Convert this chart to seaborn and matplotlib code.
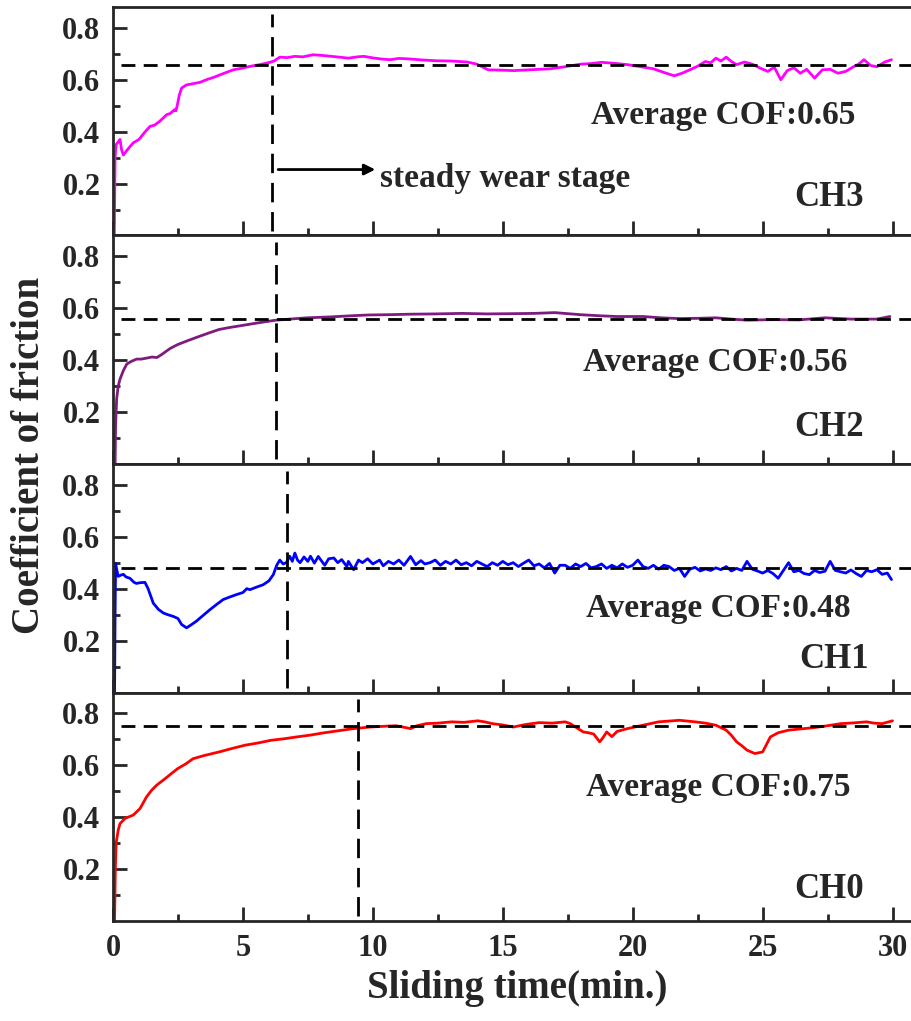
import matplotlib.pyplot as plt
import seaborn as sns

# friction curves (time in min, COF)
ch3_t = [0.05, 0.08, 0.12, 0.2, 0.27, 0.33, 0.4, 0.55, 0.78, 1.0, 1.2, 1.42, 1.6, 1.8, 2.06, 2.2, 2.38, 2.42,
         2.47, 2.55, 2.64, 2.83, 3.1, 3.35, 3.6, 3.9, 4.2, 4.63, 5.0, 5.3, 5.65, 6.04, 6.2, 6.42, 6.7, 7.0, 7.3,
         7.7, 8.0, 8.4, 8.7, 9.06, 9.4, 9.66, 10.0, 10.3, 10.65, 11.0, 11.4, 11.9, 12.44, 13.0, 13.64, 14.0,
         14.2, 14.44, 14.9, 15.43, 16.0, 16.4, 16.82, 17.4, 18.0, 18.4, 18.8, 19.3, 19.8, 20.3, 20.8, 21.2,
         21.6, 21.9, 22.2, 22.5, 22.8, 23.0, 23.2, 23.4, 23.6, 23.8, 24.0, 24.3, 24.6, 24.9, 25.2, 25.45, 25.7,
         25.95, 26.2, 26.45, 26.7, 27.0, 27.3, 27.6, 27.9, 28.2, 28.5, 28.7, 28.9, 29.15, 29.4, 29.7, 29.96]
ch3_v = [0.0, 0.30, 0.35, 0.36, 0.37, 0.33, 0.31, 0.33, 0.357, 0.37, 0.395, 0.42, 0.425, 0.44, 0.465, 0.47,
         0.485, 0.48, 0.50, 0.54, 0.568, 0.58, 0.585, 0.59, 0.60, 0.61, 0.622, 0.638, 0.645, 0.652, 0.658,
         0.667, 0.672, 0.687, 0.685, 0.69, 0.688, 0.696, 0.694, 0.69, 0.687, 0.683, 0.688, 0.69, 0.684, 0.68,
         0.677, 0.682, 0.68, 0.676, 0.673, 0.672, 0.668, 0.66, 0.65, 0.638, 0.637, 0.635, 0.638, 0.64, 0.642,
         0.65, 0.66, 0.662, 0.667, 0.663, 0.658, 0.65, 0.642, 0.628, 0.615, 0.625, 0.638, 0.652, 0.67, 0.665,
         0.683, 0.672, 0.687, 0.67, 0.658, 0.668, 0.66, 0.645, 0.632, 0.648, 0.60, 0.635, 0.646, 0.625, 0.64,
         0.606, 0.638, 0.64, 0.625, 0.632, 0.65, 0.66, 0.677, 0.655, 0.65, 0.668, 0.677]

ch2_t = [0.08, 0.1, 0.14, 0.2, 0.27, 0.4, 0.53, 0.7, 0.91, 1.09, 1.3, 1.5, 1.69, 1.85, 1.99, 2.2, 2.49, 2.9,
         3.28, 3.7, 4.08, 4.5, 4.88, 5.3, 5.67, 6.0, 6.27, 6.8, 7.46, 8.0, 8.46, 9.2, 9.85, 10.6, 11.45, 12.4,
         13.44, 14.4, 15.4, 16.2, 17.0, 17.5, 18.0, 18.7, 19.4, 20.4, 21.1, 21.8, 22.5, 23.2, 23.8, 24.4, 25.4,
         26.4, 27.4, 28.4, 29.4, 29.9]
ch2_v = [0.0, 0.15, 0.25, 0.30, 0.327, 0.36, 0.385, 0.395, 0.404, 0.404, 0.408, 0.412, 0.41, 0.42, 0.43,
         0.445, 0.46, 0.476, 0.49, 0.505, 0.518, 0.526, 0.532, 0.539, 0.545, 0.55, 0.554, 0.558, 0.563, 0.565,
         0.567, 0.571, 0.574, 0.575, 0.577, 0.578, 0.58, 0.578, 0.579, 0.58, 0.583, 0.579, 0.575, 0.571, 0.568,
         0.568, 0.563, 0.56, 0.561, 0.563, 0.558, 0.554, 0.556, 0.555, 0.563, 0.558, 0.558, 0.568]

ch1_t = [0.06, 0.08, 0.1, 0.15, 0.2, 0.3, 0.4, 0.5, 0.65, 0.8, 0.9, 1.05, 1.23, 1.35, 1.55, 1.75, 1.94, 2.1,
         2.32, 2.5, 2.64, 2.83, 3.0, 3.2, 3.45, 3.73, 4.0, 4.24, 4.5, 4.75, 5.0, 5.15, 5.27, 5.5, 5.78, 6.0,
         6.17, 6.3, 6.42, 6.55, 6.67, 6.8, 6.9, 7.0, 7.1, 7.2, 7.35, 7.5, 7.6, 7.75, 7.9, 8.0, 8.15, 8.3, 8.5,
         8.65, 8.8, 9.0, 9.06, 9.26, 9.45, 9.6, 9.8, 10.0, 10.26, 10.4, 10.6, 10.8, 11.0, 11.2, 11.45, 11.65,
         11.85, 12.0, 12.2, 12.4, 12.6, 12.8, 13.0, 13.2, 13.4, 13.6, 13.8, 14.0, 14.2, 14.4, 14.6, 14.8, 15.0,
         15.2, 15.4, 15.6, 15.8, 16.0, 16.2, 16.4, 16.6, 16.8, 17.0, 17.2, 17.4, 17.6, 17.8, 18.0, 18.2, 18.4,
         18.6, 18.8, 19.0, 19.2, 19.4, 19.6, 19.8, 20.0, 20.2, 20.4, 20.6, 20.8, 21.0, 21.2, 21.4, 21.6, 21.8,
         22.0, 22.2, 22.4, 22.6, 22.8, 23.0, 23.2, 23.4, 23.6, 23.8, 24.0, 24.2, 24.4, 24.6, 24.8, 25.0, 25.2,
         25.4, 25.6, 25.8, 26.0, 26.2, 26.4, 26.6, 26.8, 27.0, 27.2, 27.4, 27.6, 27.8, 28.0, 28.2, 28.4, 28.6,
         28.8, 29.0, 29.2, 29.4, 29.6, 29.8, 29.96]
ch1_v = [0.0, 0.30, 0.498, 0.47, 0.447, 0.452, 0.455, 0.445, 0.44, 0.425, 0.42, 0.423, 0.424, 0.40, 0.344,
         0.32, 0.306, 0.30, 0.293, 0.285, 0.262, 0.249, 0.26, 0.274, 0.295, 0.319, 0.34, 0.358, 0.368, 0.377,
         0.385, 0.40, 0.396, 0.405, 0.415, 0.43, 0.454, 0.49, 0.51, 0.495, 0.50, 0.525, 0.505, 0.537, 0.51,
         0.50, 0.522, 0.505, 0.525, 0.498, 0.524, 0.51, 0.49, 0.515, 0.518, 0.50, 0.512, 0.485, 0.505, 0.473,
         0.51, 0.50, 0.515, 0.495, 0.51, 0.488, 0.505, 0.495, 0.51, 0.49, 0.524, 0.492, 0.508, 0.495, 0.50,
         0.51, 0.49, 0.505, 0.495, 0.51, 0.492, 0.50, 0.488, 0.505, 0.495, 0.485, 0.50, 0.49, 0.505, 0.492,
         0.50, 0.485, 0.498, 0.51, 0.488, 0.495, 0.48, 0.497, 0.46, 0.49, 0.49, 0.478, 0.495, 0.485, 0.497,
         0.48, 0.485, 0.495, 0.478, 0.49, 0.48, 0.495, 0.482, 0.49, 0.51, 0.485, 0.478, 0.49, 0.475, 0.49,
         0.485, 0.47, 0.478, 0.447, 0.475, 0.482, 0.468, 0.476, 0.47, 0.48, 0.473, 0.485, 0.468, 0.478, 0.47,
         0.505, 0.475, 0.468, 0.46, 0.47, 0.458, 0.44, 0.47, 0.50, 0.465, 0.47, 0.458, 0.454, 0.47, 0.462,
         0.467, 0.505, 0.47, 0.465, 0.46, 0.472, 0.458, 0.447, 0.47, 0.465, 0.473, 0.455, 0.46, 0.435]

ch0_t = [0.06, 0.09, 0.12, 0.2, 0.27, 0.46, 0.78, 1.04, 1.29, 1.49, 1.68, 1.9, 2.09, 2.3, 2.49, 2.8, 3.08,
         3.5, 4.08, 4.6, 5.08, 5.6, 6.08, 6.6, 7.07, 7.6, 8.07, 8.7, 9.26, 9.9, 10.45, 10.9, 11.45, 11.7,
         12.05, 12.5, 13.04, 13.5, 14.04, 14.3, 14.6, 15.0, 15.4, 15.9, 16.4, 16.9, 17.4, 17.6, 17.8, 18.1,
         18.3, 18.5, 18.73, 18.85, 19.0, 19.2, 19.4, 19.8, 20.4, 21.0, 21.4, 21.8, 22.4, 22.8, 23.2, 23.6,
         23.8, 24.0, 24.2, 24.4, 24.7, 25.0, 25.15, 25.3, 25.6, 26.0, 26.5, 27.0, 27.5, 28.0, 28.5, 29.0,
         29.3, 29.6, 30.0]
ch0_v = [0.0, 0.20, 0.30, 0.35, 0.375, 0.395, 0.408, 0.433, 0.478, 0.504, 0.523, 0.54, 0.555, 0.572, 0.587,
         0.605, 0.625, 0.637, 0.651, 0.665, 0.677, 0.686, 0.696, 0.702, 0.709, 0.716, 0.724, 0.733, 0.741,
         0.747, 0.75, 0.752, 0.741, 0.752, 0.76, 0.762, 0.767, 0.765, 0.771, 0.767, 0.76, 0.755, 0.747, 0.757,
         0.764, 0.762, 0.767, 0.76, 0.747, 0.728, 0.725, 0.72, 0.69, 0.705, 0.728, 0.71, 0.73, 0.741, 0.754,
         0.767, 0.77, 0.773, 0.767, 0.762, 0.754, 0.735, 0.715, 0.69, 0.675, 0.658, 0.645, 0.651, 0.68, 0.709,
         0.725, 0.735, 0.74, 0.745, 0.752, 0.76, 0.763, 0.767, 0.762, 0.76, 0.771]

channels = ['CH3', 'CH2', 'CH1', 'CH0']
times = [ch3_t, ch2_t, ch1_t, ch0_t]
cofs = [ch3_v, ch2_v, ch1_v, ch0_v]
avg_cof = [0.658, 0.56, 0.48, 0.75]
avg_labels = ['0.65', '0.56', '0.48', '0.75']
steady_start = [6.1, 6.27, 6.7, 9.42]

colors = ['#FF00FF', '#7F1A7F', '#0000FF', '#FF0000']
# text anchors (data coords)
avg_pos = [(18.38, 0.431), (18.1, 0.359), (18.2, 0.291), (18.2, 0.481)]
ch_pos = [(26.2, 0.113), (26.2, 0.109), (26.4, 0.095), (26.2, 0.088)]

sns.set_style('ticks')
plt.rcParams['font.family'] = ['Liberation Serif', 'DejaVu Serif']
plt.rcParams['font.weight'] = 'bold'

fig = plt.figure(figsize=(9.12, 10.21), dpi=100)
gs = fig.add_gridspec(4, 1, left=113 / 912, right=1.0, top=1 - 7 / 1021, bottom=1 - 921 / 1021, hspace=0)

for i in range(4):
    ax = fig.add_subplot(gs[i])
    sns.lineplot(x=times[i], y=cofs[i], ax=ax, color=colors[i], lw=2.0, estimator=None)

    # average COF line and start of steady wear
    ax.axhline(avg_cof[i], xmin=0.01, xmax=1, color='k', lw=2.0, ls=(0, (5, 3)))
    ax.axvline(steady_start[i], ymin=0.02, ymax=0.97, color='k', lw=2.0, ls=(0, (7, 3.5)))

    ax.text(avg_pos[i][0], avg_pos[i][1], 'Average COF:' + avg_labels[i], fontsize=24, fontweight='bold')
    ax.text(ch_pos[i][0], ch_pos[i][1], channels[i], fontsize=25, fontweight='bold')

    ax.set_xlim(0, 30.75)
    ax.set_ylim(0, 0.88)
    ax.set_xticks([0, 5, 10, 15, 20, 25, 30])
    ax.set_xticks([2.5, 7.5, 12.5, 17.5, 22.5, 27.5], minor=True)
    ax.set_yticks([0.2, 0.4, 0.6, 0.8])
    ax.set_yticks([0.1, 0.3, 0.5, 0.7], minor=True)
    ax.set_yticklabels(['0.2', '0.4', '0.6', '0.8'])
    ax.tick_params(which='major', direction='in', length=10, width=2, labelsize=22, pad=9)
    ax.tick_params(which='minor', direction='in', length=5, width=2)
    ax.set_xlabel('')
    ax.set_ylabel('')
    for s in ax.spines.values():
        s.set_linewidth(2)
    if i < 3:
        ax.tick_params(axis='x', labelbottom=False)

    if i == 0:
        ax.annotate('', xy=(10.2, 0.254), xytext=(6.25, 0.254),
                    arrowprops=dict(arrowstyle='-|>', color='k', lw=2, mutation_scale=16))
        ax.text(10.27, 0.188, 'steady wear stage', fontsize=24, fontweight='bold')

fig.text(30 / 912, 1 - 455 / 1021, 'Coefficient of friction', rotation=90, fontsize=28,
         fontweight='bold', ha='center', va='center')
fig.text(517 / 912, 1 - 988 / 1021, 'Sliding time(min.)', fontsize=28, fontweight='bold',
         ha='center', va='center')

fig.savefig('out.png', dpi=100)
